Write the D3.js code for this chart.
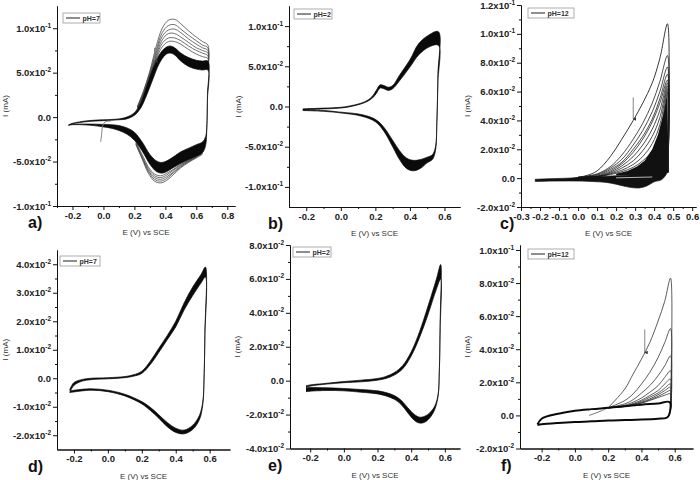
<!DOCTYPE html>
<html><head><meta charset="utf-8">
<script src="https://cdn.jsdelivr.net/npm/d3@7"></script>
<style>body{margin:0;background:#fff}svg{display:block}</style>
</head><body>
<svg id="c" width="700" height="480"></svg>
<script>
// ---------- Panel a (pH=7) ----------
const aFwdE  = [-0.225,-0.2,-0.1,0.0,0.1,0.15,0.2,0.24,0.28,0.32,0.36,0.40,0.43,0.46,0.50,0.55,0.60,0.64,0.675];
const aFwdIn = [-0.009,-0.0075,-0.005,-0.004,-0.003,-0.002,0.002,0.01,0.025,0.043,0.06,0.07,0.072,0.07,0.063,0.057,0.054,0.053,0.053];
const aFwdOut= [-0.009,-0.007,-0.004,-0.003,-0.002,0.0,0.005,0.016,0.035,0.055,0.07,0.078,0.08,0.078,0.072,0.067,0.064,0.063,0.063];
const aRevE  = [0.675,0.672,0.668,0.66,0.64,0.6,0.55,0.5,0.45,0.40,0.37,0.34,0.30,0.25,0.2,0.15,0.1,0.05,0.0,-0.1,-0.2,-0.225];
const aRevIn = [0.053,0.02,-0.01,-0.022,-0.028,-0.031,-0.035,-0.039,-0.045,-0.05,-0.051,-0.049,-0.042,-0.028,-0.017,-0.012,-0.0095,-0.0085,-0.0082,-0.0078,-0.008,-0.009];
const aRevOut= [0.063,0.025,-0.012,-0.032,-0.04,-0.044,-0.048,-0.052,-0.057,-0.062,-0.063,-0.061,-0.053,-0.038,-0.026,-0.019,-0.015,-0.0125,-0.011,-0.009,-0.0085,-0.009];
const aUpE = [0.22,0.26,0.30,0.34,0.38,0.42,0.46,0.50,0.55,0.60,0.64,0.675,0.6745];
const aUp = [
  [0.012,0.03,0.052,0.079,0.100,0.109,0.110,0.105,0.097,0.090,0.085,0.081,0.055],
  [0.012,0.029,0.050,0.075,0.095,0.103,0.104,0.099,0.092,0.086,0.081,0.078,0.055],
  [0.011,0.028,0.049,0.072,0.091,0.098,0.099,0.095,0.088,0.082,0.078,0.075,0.055],
  [0.011,0.027,0.047,0.069,0.087,0.094,0.094,0.090,0.084,0.078,0.075,0.072,0.055],
  [0.010,0.026,0.046,0.067,0.083,0.089,0.089,0.086,0.080,0.075,0.072,0.069,0.055],
  [0.010,0.025,0.045,0.065,0.079,0.085,0.085,0.082,0.076,0.071,0.068,0.066,0.055]
];
const aLoE = [0.64,0.60,0.55,0.50,0.45,0.41,0.37,0.33,0.29,0.25,0.21];
const aLo = [
  [-0.042,-0.046,-0.051,-0.057,-0.065,-0.071,-0.074,-0.072,-0.063,-0.047,-0.031],
  [-0.041,-0.045,-0.050,-0.056,-0.063,-0.069,-0.072,-0.070,-0.061,-0.046,-0.030],
  [-0.040,-0.045,-0.050,-0.055,-0.062,-0.067,-0.070,-0.068,-0.060,-0.045,-0.030],
  [-0.040,-0.044,-0.049,-0.054,-0.060,-0.065,-0.068,-0.066,-0.058,-0.044,-0.029],
  [-0.040,-0.044,-0.049,-0.053,-0.059,-0.063,-0.066,-0.064,-0.056,-0.042,-0.028]
];
const aStartE = [-0.018,-0.012,-0.005,0.01,0.05];
const aStartI = [-0.028,-0.02,-0.01,-0.0055,-0.0045];
const aArrowE = [0.33,0.33];
const aArrowI = [0.078,0.063];
const aXTicks = [-0.2,0.0,0.2,0.4,0.6,0.8];
const aYTicks = [-0.1,-0.05,0,0.05,0.1];

// ---------- Panel b (pH=2) ----------
const bFwdE  = [-0.22,-0.1,0.0,0.08,0.14,0.18,0.205,0.228,0.25,0.275,0.30,0.34,0.40,0.45,0.51,0.565];
const bFwdIn = [-0.004,-0.003,-0.002,0.001,0.005,0.010,0.016,0.023,0.022,0.020,0.022,0.032,0.049,0.064,0.074,0.076];
const bFwdOut= [-0.003,-0.002,-0.001,0.002,0.006,0.012,0.020,0.027,0.026,0.024,0.026,0.039,0.058,0.078,0.089,0.093];
const bRevE  = [0.565,0.562,0.556,0.548,0.53,0.5,0.46,0.42,0.38,0.34,0.3,0.25,0.2,0.12,0.0,-0.1,-0.22];
const bRevIn = [0.076,0.03,-0.02,-0.05,-0.06,-0.063,-0.066,-0.067,-0.064,-0.055,-0.042,-0.026,-0.016,-0.010,-0.007,-0.005,-0.004];
const bRevOut= [0.093,0.04,-0.02,-0.055,-0.066,-0.070,-0.077,-0.080,-0.077,-0.066,-0.050,-0.031,-0.019,-0.012,-0.008,-0.006,-0.005];
const bXTicks = [-0.2,0.0,0.2,0.4,0.6];
const bYTicks = [-0.1,-0.05,0,0.05,0.1];

// ---------- Panel c (pH=12) ----------
const cFirstE = [-0.225,-0.15,-0.05,0.0,0.05,0.1,0.17,0.23,0.29,0.34,0.39,0.43,0.47,0.473];
const cFirstI = [-0.002,-0.0015,-0.0005,0.0005,0.002,0.005,0.015,0.027,0.040,0.052,0.066,0.083,0.107,0.005];
const cCycE = [0.0,0.1,0.17,0.23,0.29,0.34,0.39,0.43,0.47,0.472];
const cCyc = [
  [0.0005,0.003,0.008,0.016,0.027,0.038,0.052,0.067,0.085,0.004],
  [0.0005,0.0025,0.007,0.013,0.023,0.033,0.046,0.060,0.077,0.004],
  [0.0005,0.002,0.006,0.011,0.020,0.029,0.041,0.055,0.072,0.004],
  [0.0005,0.0015,0.005,0.010,0.018,0.027,0.039,0.052,0.068,0.004],
  [0.0005,0.0012,0.0042,0.0085,0.015,0.023,0.034,0.047,0.066,0.004],
  [0.0005,0.001,0.0035,0.007,0.012,0.019,0.029,0.042,0.064,0.004],
  [0.0005,0.001,0.003,0.0055,0.0095,0.015,0.024,0.037,0.062,0.004],
  [0.0005,0.001,0.0025,0.0045,0.0075,0.012,0.019,0.031,0.060,0.004]
];
const cDenseE = [0.2,0.26,0.31,0.35,0.39,0.42,0.45,0.47,0.475,0.44,0.4,0.3,0.2];
const cDenseI = [0.003,0.005,0.008,0.012,0.020,0.030,0.045,0.060,0.004,0.003,0.0025,0.002,0.002];
const cBaseFE = [-0.225,-0.15,-0.05,0.05,0.15,0.25,0.35,0.42,0.47];
const cBaseFI = [-0.0008,-0.0004,0.0,0.0006,0.0013,0.002,0.0028,0.0038,0.005];
const cBaseRE = [0.47,0.44,0.4,0.36,0.32,0.28,0.24,0.2,0.15,0.1,0.0,-0.1,-0.225];
const cBaseRI = [-0.0005,-0.001,-0.0025,-0.0055,-0.0068,-0.0065,-0.0055,-0.0042,-0.003,-0.0025,-0.002,-0.002,-0.0022];
const cGapE = [0.2,0.39];
const cGapI = [0.0002,0.0008];
const cArrowE = [0.29,0.29];
const cArrowI = [0.056,0.041];
const cXTicks = [-0.3,-0.2,-0.1,0.0,0.1,0.2,0.3,0.4,0.5,0.6];
const cYTicks = [-0.02,0,0.02,0.04,0.06,0.08,0.1,0.12];

// ---------- Panel d (pH=7) ----------
const dFwdE  = [-0.225,-0.2,-0.15,-0.1,0.0,0.1,0.15,0.2,0.25,0.3,0.35,0.4,0.45,0.5,0.55,0.575];
const dFwdOut= [-0.004,-0.0015,-0.0004,0.0,0.0002,0.0006,0.0012,0.0025,0.006,0.0105,0.015,0.020,0.0265,0.032,0.0365,0.039];
const dFwdIn = [-0.005,-0.0025,-0.001,-0.0005,-0.0002,0.0002,0.0007,0.0017,0.0048,0.009,0.0135,0.018,0.024,0.029,0.0335,0.0355];
const dRevE  = [0.575,0.572,0.567,0.56,0.54,0.5,0.45,0.4,0.35,0.3,0.25,0.2,0.1,0.0,-0.1,-0.2,-0.225];
const dRevIn = [0.0355,0.015,0.0,-0.008,-0.013,-0.0165,-0.0182,-0.0175,-0.0155,-0.0128,-0.0102,-0.0082,-0.0056,-0.0042,-0.0037,-0.0042,-0.0045];
const dRevOut= [0.039,0.016,0.0,-0.009,-0.0145,-0.018,-0.0195,-0.019,-0.017,-0.014,-0.0113,-0.009,-0.0062,-0.0047,-0.0042,-0.0048,-0.005];
const dXTicks = [-0.2,0.0,0.2,0.4,0.6];
const dYTicks = [-0.02,-0.01,0,0.01,0.02,0.03,0.04];

// ---------- Panel e (pH=2) ----------
const eFwdE  = [-0.225,-0.2,-0.1,0.0,0.1,0.2,0.25,0.3,0.35,0.4,0.45,0.5,0.55,0.575];
const eFwdOut= [-0.003,-0.0025,-0.0015,-0.0005,0.0003,0.0013,0.0025,0.0048,0.009,0.017,0.029,0.044,0.060,0.0685];
const eFwdIn = [-0.004,-0.0032,-0.002,-0.0012,-0.0007,0.0003,0.0013,0.0033,0.007,0.0145,0.0255,0.039,0.054,0.060];
const eRevE  = [0.575,0.572,0.567,0.56,0.54,0.51,0.48,0.45,0.42,0.38,0.34,0.3,0.25,0.2,0.1,0.0,-0.1,-0.2,-0.225];
const eRevIn = [0.060,0.030,0.005,-0.008,-0.015,-0.019,-0.021,-0.0215,-0.020,-0.016,-0.0115,-0.0088,-0.007,-0.006,-0.0052,-0.0046,-0.0042,-0.004,-0.0042];
const eRevOut= [0.0685,0.035,0.005,-0.009,-0.017,-0.022,-0.0245,-0.025,-0.0235,-0.019,-0.014,-0.011,-0.009,-0.0078,-0.0068,-0.006,-0.0058,-0.0062,-0.0065];
const eXTicks = [-0.2,0.0,0.2,0.4,0.6];
const eYTicks = [-0.04,-0.02,0,0.02,0.04,0.06,0.08];

// ---------- Panel f (pH=12) ----------
const fBaseFE = [-0.225,-0.2,-0.1,0.0,0.1,0.2,0.3,0.4,0.5,0.57];
const fBaseFI = [-0.0055,-0.002,0.001,0.0028,0.0038,0.0046,0.0055,0.0065,0.0072,0.008];
const fBaseRE = [0.57,0.565,0.55,0.5,0.4,0.3,0.2,0.1,0.0,-0.1,-0.2,-0.225];
const fBaseRI = [0.008,0.0,-0.0015,-0.002,-0.0025,-0.0028,-0.0031,-0.0036,-0.004,-0.0046,-0.0054,-0.0058];
const fCycE = [0.2,0.3,0.35,0.4,0.45,0.5,0.54,0.575,0.574];
const fCyc = [
  [0.0046,0.016,0.025,0.034,0.044,0.057,0.069,0.083,0.003],
  [0.0046,0.009,0.013,0.019,0.026,0.035,0.044,0.0525,0.003],
  [0.0046,0.007,0.0095,0.0135,0.018,0.024,0.030,0.036,0.003],
  [0.0046,0.0062,0.008,0.0105,0.014,0.018,0.023,0.027,0.003],
  [0.0046,0.0058,0.0072,0.0092,0.012,0.015,0.019,0.022,0.003],
  [0.0046,0.0056,0.0068,0.0085,0.011,0.0135,0.0165,0.019,0.003],
  [0.0046,0.0055,0.0066,0.008,0.010,0.0125,0.015,0.017,0.003],
  [0.0046,0.0054,0.0064,0.0076,0.0094,0.0115,0.0135,0.015,0.003],
  [0.0046,0.0054,0.0063,0.0074,0.009,0.0108,0.0122,0.013,0.003]
];
const fStartE = [0.085,0.12,0.16,0.2];
const fStartI = [0.0,0.0012,0.0028,0.0046];
const fArrowE = [0.42,0.42];
const fArrowI = [0.052,0.038];
const fXTicks = [-0.2,0.0,0.2,0.4,0.6];
const fYTicks = [-0.02,0,0.02,0.04,0.06,0.08,0.1];

// ---------- drawing ----------
const svg = d3.select("#c");
const FONT = "'Liberation Sans', Arial, Helvetica, sans-serif";
const zip = (E, I) => E.map((e, i) => [e, I[i]]);
const mids = t => t.slice(0, -1).map((v, i) => (v + t[i + 1]) / 2);

svg.append("defs").append("marker").attr("id","arr").attr("viewBox","0 0 6 6")
  .attr("refX",3).attr("refY",5).attr("markerWidth",4).attr("markerHeight",4).attr("orient","auto-start-reverse")
  .append("path").attr("d","M0,0 L3,6 L6,0 Z").attr("fill","#333");

function sci(d) {
  if (Math.abs(d) < 1e-12) return ["0.0", null];
  const ex = Math.floor(Math.log10(Math.abs(d)) + 1e-9);
  const m = d / Math.pow(10, ex);
  return [m.toFixed(1) + "x10", String(ex)];
}

function panel(o) {
  const x = d3.scaleLinear().domain(o.xd).range(o.xr);
  const y = d3.scaleLinear().domain(o.yd).range(o.yr);
  const g = svg.append("g");
  const line = d3.line().x(d => x(d[0])).y(d => y(d[1])).curve(d3.curveCatmullRom.alpha(0.5));
  const poly = d3.line().x(d => x(d[0])).y(d => y(d[1]));
  const plot = g.append("g");
  const axes = g.append("g");
  // minor ticks
  axes.append("g").attr("transform", `translate(0,${o.yr[0]})`)
    .call(d3.axisBottom(x).tickValues(o.xMinor).tickSize(2).tickSizeOuter(0).tickFormat(""));
  axes.append("g").attr("transform", `translate(${o.xr[0]},0)`)
    .call(d3.axisLeft(y).tickValues(o.yMinor).tickSize(2).tickSizeOuter(0).tickFormat(""));
  const xa = axes.append("g").attr("transform", `translate(0,${o.yr[0]})`)
    .call(d3.axisBottom(x).tickValues(o.xTicks).tickSize(4).tickSizeOuter(0).tickPadding(2).tickFormat(d => d.toFixed(1)));
  const ya = axes.append("g").attr("transform", `translate(${o.xr[0]},0)`)
    .call(d3.axisLeft(y).tickValues(o.yTicks).tickSize(4).tickSizeOuter(0).tickPadding(2));
  ya.selectAll(".tick text").each(function (d) {
    const t = d3.select(this); t.text(null);
    const [m, e] = sci(d);
    t.append("tspan").text(m);
    if (e) t.append("tspan").attr("dy", -4).attr("font-size", 6.5).text(e);
  });
  axes.selectAll("path.domain, .tick line").attr("stroke", "#111").attr("stroke-width", 1);
  axes.selectAll("text").attr("font-family", FONT).attr("font-size", 9.5).attr("font-weight", "bold").attr("fill", "#222");
  ya.selectAll("tspan[dy]").attr("font-size", 6.5);
  axes.attr("font-family", null).attr("font-size", null);
  // titles
  g.append("text").attr("x", (o.xr[0] + o.xr[1]) / 2 + o.tdx).attr("y", o.yr[0] + 29)
    .attr("text-anchor", "middle").attr("font-family", FONT).attr("font-size", 8).attr("fill", "#333").text("E (V) vs SCE");
  g.append("text").attr("transform", `translate(${o.ytx},${(o.yr[0] + o.yr[1]) / 2}) rotate(-90)`)
    .attr("text-anchor", "middle").attr("font-family", FONT).attr("font-size", 8).attr("fill", "#333").text("I (mA)");
  g.append("text").attr("x", o.lx).attr("y", o.yr[0] + 22).attr("font-family", FONT)
    .attr("font-size", 16).attr("font-weight", "bold").attr("fill", "#111").text(o.letter);
  // legend
  const L = g.append("g").attr("transform", `translate(${o.leg[0]},${o.leg[1]})`);
  L.append("rect").attr("width", o.leg[2]).attr("height", 10).attr("fill", "#fff").attr("stroke", "#999").attr("stroke-width", 0.8);
  L.append("line").attr("x1", 3).attr("x2", 17).attr("y1", 5).attr("y2", 5).attr("stroke", "#444").attr("stroke-width", 1.2);
  L.append("text").attr("x", 19.5).attr("y", 7.6).attr("font-family", FONT).attr("font-size", 7).attr("font-weight", "bold").attr("fill", "#333").text(o.legText);
  return { x, y, plot, line, poly };
}

function band(p, fE, fOut, fIn, rE, rOut, rIn) {
  const outer = zip(fE, fOut).concat(zip(rE, rOut).slice(1));
  const inner = zip(fE, fIn).concat(zip(rE, rIn).slice(1));
  p.plot.append("path").attr("d", p.line(outer) + p.line(inner))
    .attr("fill", "#0a0a0a").attr("fill-rule", "evenodd").attr("stroke", "#0a0a0a").attr("stroke-width", 0.7);
}
function stroke(p, pts, col, w, extra) {
  const s = p.plot.append("path").attr("d", p.line(pts)).attr("fill", "none").attr("stroke", col).attr("stroke-width", w);
  if (extra) extra(s);
  return s;
}
function arrow(p, E, I) {
  p.plot.append("path").attr("d", p.poly(zip(E, I))).attr("stroke", "#777").attr("stroke-width", 0.9)
    .attr("fill", "none").attr("marker-end", "url(#arr)");
}

// Panel a
const pa = panel({ xd: [-0.3, 0.85], xr: [57, 235], yd: [-0.1, 0.125], yr: [206, 6],
  xTicks: aXTicks, xMinor: mids(aXTicks).concat([-0.3]), yTicks: aYTicks, yMinor: mids(aYTicks),
  letter: "a)", lx: 28, ytx: 8, tdx: 0, leg: [63, 13, 37], legText: "pH=7" });
aUp.forEach(I => stroke(pa, zip(aUpE, I), "#4a4a4a", 0.8));
aLo.forEach(I => stroke(pa, zip(aLoE, I), "#4a4a4a", 0.8));
band(pa, aFwdE, aFwdOut, aFwdIn, aRevE, aRevOut, aRevIn);
stroke(pa, zip(aStartE, aStartI), "#777", 0.9);
arrow(pa, aArrowE, aArrowI);

// Panel b
const pb = panel({ xd: [-0.3, 0.69], xr: [289, 460], yd: [-0.125, 0.125], yr: [207, 6],
  xTicks: bXTicks, xMinor: mids(bXTicks), yTicks: bYTicks, yMinor: mids(bYTicks),
  letter: "b)", lx: 268, ytx: 241, tdx: 0, leg: [294, 9, 38], legText: "pH=2" });
band(pb, bFwdE, bFwdOut, bFwdIn, bRevE, bRevOut, bRevIn);

// Panel c
const pc = panel({ xd: [-0.3, 0.62], xr: [521, 696], yd: [-0.02, 0.12], yr: [207, 5],
  xTicks: cXTicks, xMinor: mids(cXTicks), yTicks: cYTicks, yMinor: mids(cYTicks),
  letter: "c)", lx: 500, ytx: 470, tdx: 0, leg: [528, 8, 46], legText: "pH=12" });
pc.plot.append("path").attr("d", pc.poly(zip(cDenseE, cDenseI)) + "Z").attr("fill", "#111");
cCyc.forEach(I => stroke(pc, zip(cCycE, I), "#111", 0.75));
stroke(pc, zip(cFirstE, cFirstI), "#222", 0.9);
pc.plot.append("path").attr("d", pc.line(zip(cBaseFE, cBaseFI).concat(zip(cBaseRE, cBaseRI).slice(1))) + "Z")
  .attr("fill", "#111").attr("stroke", "#111").attr("stroke-width", 0.7);
stroke(pc, zip(cGapE, cGapI), "#ddd", 0.8);
arrow(pc, cArrowE, cArrowI);

// Panel d
const pd = panel({ xd: [-0.3, 0.72], xr: [57, 230], yd: [-0.025, 0.045], yr: [449.5, 250],
  xTicks: dXTicks, xMinor: mids(dXTicks), yTicks: dYTicks, yMinor: mids(dYTicks),
  letter: "d)", lx: 28, ytx: 8, tdx: 0, leg: [60, 256, 40], legText: "pH=7" });
band(pd, dFwdE, dFwdOut, dFwdIn, dRevE, dRevOut, dRevIn);

// Panel e
const pe = panel({ xd: [-0.32, 0.69], xr: [290, 460], yd: [-0.04, 0.08], yr: [448.5, 245],
  xTicks: eXTicks, xMinor: mids(eXTicks), yTicks: eYTicks, yMinor: mids(eYTicks),
  letter: "e)", lx: 268, ytx: 240, tdx: 0, leg: [293, 247, 38], legText: "pH=2" });
band(pe, eFwdE, eFwdOut, eFwdIn, eRevE, eRevOut, eRevIn);

// Panel f
const pf = panel({ xd: [-0.33, 0.71], xr: [520, 693], yd: [-0.02, 0.103], yr: [448.5, 245],
  xTicks: fXTicks, xMinor: mids(fXTicks), yTicks: fYTicks, yMinor: mids(fYTicks),
  letter: "f)", lx: 501, ytx: 470, tdx: 0, leg: [528, 249, 46], legText: "pH=12" });
fCyc.forEach(I => stroke(pf, zip(fCycE, I), "#333", 0.8));
stroke(pf, zip(fStartE, fStartI), "#555", 0.8);
stroke(pf, zip(fBaseFE, fBaseFI).concat(zip(fBaseRE, fBaseRI).slice(1)), "#0a0a0a", 2);
arrow(pf, fArrowE, fArrowI);
</script>
</body></html>
